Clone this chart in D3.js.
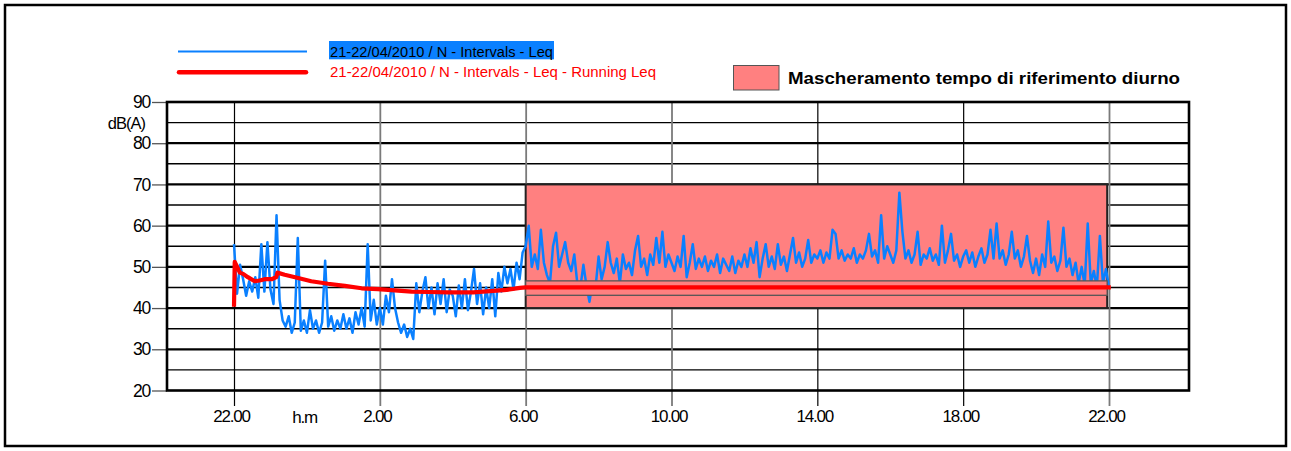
<!DOCTYPE html>
<html>
<head>
<meta charset="utf-8">
<script src="https://cdn.jsdelivr.net/npm/d3@7"></script>
<style>
  body { margin: 0; background: #fff; }
  svg { display: block; }
  text { font-family: "Liberation Sans", Arial, sans-serif; }
</style>
</head>
<body>
<svg id="chart" width="1291" height="451"></svg>
<script>
// Leq values every 5 minutes, starting 22:00 on 21/04 (hour 0) through 22:00 on 22/04 (hour 24)
const stepMinutes = 5;
const leqIntervals = [
  55.5, 43.5, 50.5, 47, 43, 46.5, 44, 47.5, 42.5, 55.5, 44, 56,
  44.5, 41, 62.5, 42, 37, 35.5, 38, 34, 36.5, 57, 34.5, 37,
  34, 39.5, 35, 37, 34, 36.5, 51.5, 35.5, 38, 34.5, 37, 35,
  38.5, 35, 37.5, 34, 39, 36, 40, 35.5, 55.5, 37, 42, 36,
  40, 36, 43, 39, 47, 40, 36.5, 34, 36, 33, 35, 32.5,
  46, 39, 44, 47.5, 40, 45, 38.5, 46, 41, 47, 39, 44.5,
  43, 38, 45.5, 40, 47, 39.5, 44, 49.5, 41, 46, 38.5, 45,
  40, 47, 38, 48.5, 44, 50, 46, 49.5, 44.5, 51, 47, 53.5,
  55, 60, 50, 53, 49.5, 59, 51, 48, 46, 55, 58.3, 50,
  53, 56, 51, 49, 53, 46, 45, 50.5, 45.5, 41.5, 46, 45,
  52.5, 47, 50, 56, 51, 48.5, 52, 46, 53, 49.5, 51, 48,
  54, 57.5, 50, 52, 48, 53, 50.5, 57, 51, 58.5, 50, 53,
  51, 49, 52.5, 50, 57.5, 47.5, 51, 55.5, 49.5, 52, 50, 52.5,
  49, 51.5, 50, 53, 48.5, 52, 50.5, 49, 52.5, 48.5, 51.5, 50,
  53, 50, 54.5, 51, 56, 47.5, 52, 55.5, 50, 52.5, 49.5, 55.5,
  50.5, 52.5, 49, 53, 57, 51, 53.5, 50, 52, 56.5, 51, 53,
  52, 54, 51, 53.5, 52, 59, 58, 52, 54, 51.5, 53, 52,
  54.5, 51, 53, 52, 54, 58, 52.5, 54, 51, 62.5, 52, 55,
  53, 51, 54, 68, 58.5, 52, 54, 51, 53, 58.5, 50.5, 53,
  52, 54.5, 51.5, 53, 50.5, 60, 51, 54, 58, 51.5, 53, 50,
  52.5, 54, 51, 53.5, 50, 52.5, 54.5, 51, 53, 59, 52, 60.5,
  52, 54, 50.5, 53, 58.5, 52, 54, 50, 52.5, 57.5, 51.5, 48.5,
  52, 48, 53, 50, 61, 51, 52.5, 49, 51.5, 59.5, 50, 52,
  48, 51, 46, 50, 45.5, 60.5, 46, 49, 45, 57.5, 46, 49.5, 45
];

// Running Leq (hours since 22:00, dB(A))
const runningHours = [0, 0.02, 0.16, 0.25, 0.38, 0.57, 0.70, 0.84, 1.03, 1.16, 1.19, 1.39,
  1.76, 2.12, 2.58, 3.04, 3.50, 3.95, 4.41, 4.87, 5.33, 5.88, 6.56, 7.02, 7.48, 7.84, 8.0, 24.05];
const runningLeq = [40.3, 51.2, 48.6, 48.3, 47.5, 46.5, 46.7, 47.0, 47.0, 47.5, 48.6, 48.1,
  47.3, 46.5, 45.9, 45.4, 44.8, 44.6, 44.3, 44.0, 43.9, 43.8, 43.8, 44.1, 44.4, 44.9, 45.0, 45.0];

// Daytime reference masking (hours, dB levels)
const maskHours = [8, 23.95];
const maskLevels = [40, 70];
const maskBand = [43.1, 46.6];

const xTickHours = [0, 4, 8, 12, 16, 20, 24];
const xTickLabels = ['22.00', '2.00', '6.00', '10.00', '14.00', '18.00', '22.00'];
const xTickGrey = [false, true, true, true, false, false, true];
const yTicks = [20, 30, 40, 50, 60, 70, 80, 90];
const yGrid = [25, 30, 35, 40, 45, 50, 55, 60, 65, 70, 75, 80, 85];

const seriesNames = ['21-22/04/2010 / N - Intervals - Leq', '21-22/04/2010 / N - Intervals - Leq - Running Leq'];
const maskName = 'Mascheramento tempo di riferimento diurno';

const blue = '#0a80ff', red = '#ff0000', pink = '#ff8080';

const plot = { left: 167, top: 102, right: 1189, bottom: 390.5 };
const svg = d3.select('#chart');

// outer frame
svg.append('rect')
  .attr('x', 5).attr('y', 5).attr('width', 1281).attr('height', 441)
  .attr('fill', 'none').attr('stroke', '#000').attr('stroke-width', 2.5);

const x = d3.scaleLinear().domain([0, 24]).range([234, 1109]);
const y = d3.scaleLinear().domain([20, 90]).range([plot.bottom, plot.top]);

// horizontal grid
svg.append('g')
  .selectAll('line')
  .data(yGrid)
  .join('line')
  .attr('x1', plot.left).attr('x2', plot.right)
  .attr('y1', d => y(d)).attr('y2', d => y(d))
  .attr('stroke', '#000')
  .attr('stroke-width', d => d % 10 === 0 ? 2.2 : 1.4);

// x axis: vertical lines through the plot, extending as ticks
const xAxis = svg.append('g')
  .attr('transform', `translate(0,${plot.top})`)
  .call(d3.axisBottom(x)
    .tickValues(xTickHours)
    .tickSize(304)
    .tickPadding(4)
    .tickFormat((d, i) => xTickLabels[i]));
xAxis.select('.domain').remove();
xAxis.selectAll('.tick line')
  .attr('stroke', (d, i) => xTickGrey[i] ? '#7a7a7a' : '#000')
  .attr('stroke-width', (d, i) => xTickGrey[i] ? 1.8 : 1.2);
xAxis.selectAll('.tick text')
  .attr('dx', -3)
  .attr('fill', '#000')
  .style('font-size', '17px')
  .style('letter-spacing', '-1.2px')
  .style('font-family', '"Liberation Sans", Arial, sans-serif');

svg.append('text')
  .attr('x', 304.5).attr('y', 423)
  .attr('text-anchor', 'middle')
  .style('font-size', '17px')
  .style('letter-spacing', '-1.2px')
  .text('h.m');

// mask rectangle
svg.append('rect')
  .attr('x', x(maskHours[0]))
  .attr('y', y(maskLevels[1]))
  .attr('width', x(maskHours[1]) - x(maskHours[0]))
  .attr('height', y(maskLevels[0]) - y(maskLevels[1]))
  .attr('fill', pink)
  .attr('stroke', '#222')
  .attr('stroke-width', 2);

// Leq intervals
const blueLine = d3.line()
  .x((d, i) => x(i * stepMinutes / 60))
  .y(d => y(d));
svg.append('path')
  .datum(leqIntervals)
  .attr('d', blueLine)
  .attr('fill', 'none')
  .attr('stroke', blue)
  .attr('stroke-width', 2.5)
  .attr('stroke-linejoin', 'round');

// inner band of the mask, drawn over the intervals
svg.append('rect')
  .attr('x', x(maskHours[0]))
  .attr('y', y(maskBand[1]))
  .attr('width', x(maskHours[1]) - x(maskHours[0]))
  .attr('height', y(maskBand[0]) - y(maskBand[1]))
  .attr('fill', pink)
  .attr('stroke', '#555')
  .attr('stroke-width', 1.3);

// running Leq
const redLine = d3.line()
  .x((d, i) => x(runningHours[i]))
  .y(d => y(d));
svg.append('path')
  .datum(runningLeq)
  .attr('d', redLine)
  .attr('fill', 'none')
  .attr('stroke', red)
  .attr('stroke-width', 4.2)
  .attr('stroke-linejoin', 'round');

// y axis
const yAxis = svg.append('g')
  .attr('transform', `translate(${plot.left},0)`)
  .call(d3.axisLeft(y).tickValues(yTicks).tickSize(15).tickPadding(2));
yAxis.select('.domain').remove();
yAxis.selectAll('.tick line').attr('stroke', '#555').attr('stroke-width', 1.3);
yAxis.selectAll('.tick text')
  .attr('fill', '#000')
  .style('font-size', '17.5px')
  .style('letter-spacing', '-1.2px')
  .style('font-family', '"Liberation Sans", Arial, sans-serif');

svg.append('text')
  .attr('x', 145).attr('y', 129)
  .attr('text-anchor', 'end')
  .style('font-size', '16.5px')
  .style('letter-spacing', '-1px')
  .text('dB(A)');

// plot frame
svg.append('rect')
  .attr('x', plot.left).attr('y', plot.top)
  .attr('width', plot.right - plot.left).attr('height', plot.bottom - plot.top)
  .attr('fill', 'none').attr('stroke', '#000').attr('stroke-width', 2.6);

// legend
const legend = svg.append('g');
legend.append('line')
  .attr('x1', 178).attr('x2', 307).attr('y1', 51.5).attr('y2', 51.5)
  .attr('stroke', blue).attr('stroke-width', 1.8);
legend.append('line')
  .attr('x1', 179).attr('x2', 306).attr('y1', 72.3).attr('y2', 72.3)
  .attr('stroke', red).attr('stroke-width', 4.5).attr('stroke-linecap', 'round');
legend.append('rect')
  .attr('x', 329).attr('y', 41).attr('width', 225).attr('height', 18.3)
  .attr('fill', '#0a80ff');
legend.append('text')
  .attr('x', 330).attr('y', 56.5)
  .attr('textLength', 223).attr('lengthAdjust', 'spacingAndGlyphs')
  .style('font-size', '15.5px')
  .attr('fill', '#000')
  .text(seriesNames[0]);
legend.append('text')
  .attr('x', 330).attr('y', 77.3)
  .attr('textLength', 326).attr('lengthAdjust', 'spacingAndGlyphs')
  .style('font-size', '15.5px')
  .attr('fill', red)
  .text(seriesNames[1]);

legend.append('rect')
  .attr('x', 733.5).attr('y', 65.5).attr('width', 45.5).attr('height', 24.5)
  .attr('fill', pink).attr('stroke', '#555').attr('stroke-width', 1);
legend.append('text')
  .attr('x', 788).attr('y', 83.5)
  .attr('textLength', 392).attr('lengthAdjust', 'spacingAndGlyphs')
  .style('font-size', '17px')
  .style('font-weight', 'bold')
  .attr('fill', '#000')
  .text(maskName);
</script>
</body>
</html>
